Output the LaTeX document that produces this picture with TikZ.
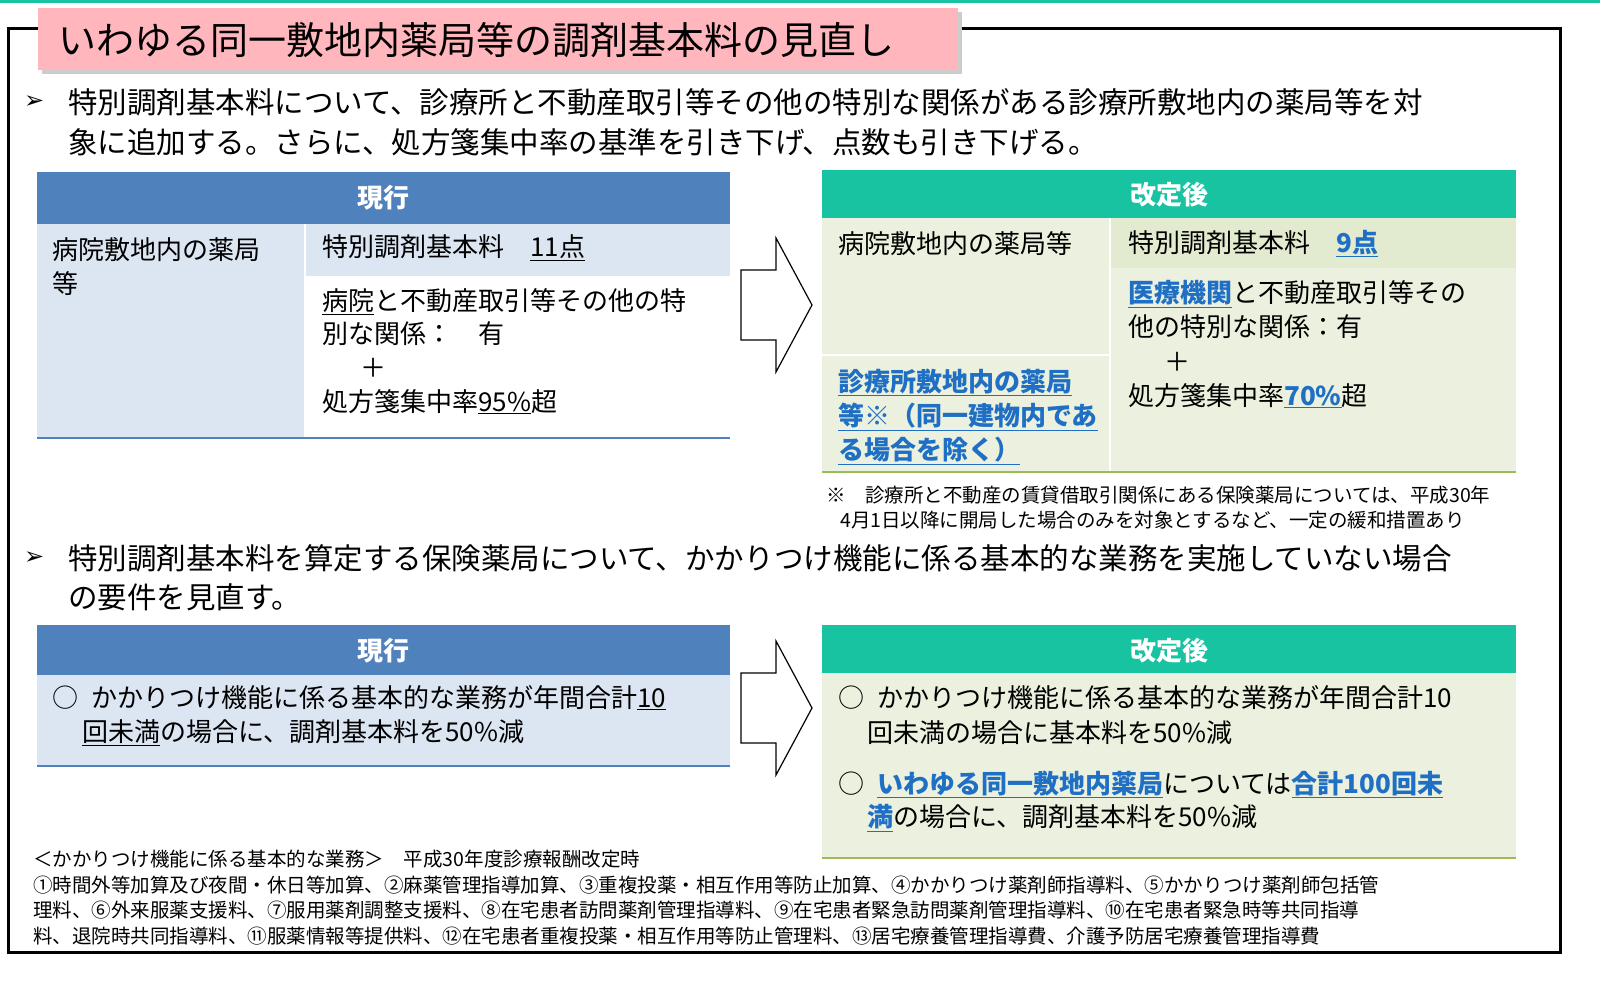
\documentclass[tikz,border=0pt]{standalone}
\usepackage{fontspec}
\setmainfont{Noto Sans CJK JP}
\newfontfamily\djfont{DejaVu Sans}
\definecolor{hdrblue}{HTML}{4F81BD}
\definecolor{lblue}{HTML}{DCE6F2}
\definecolor{teal}{HTML}{17C3A0}
\definecolor{lgreen}{HTML}{EBF1DE}
\definecolor{lgreen2}{HTML}{E2EBCF}
\definecolor{gline}{HTML}{9BBB59}
\definecolor{pink}{HTML}{FFB6BC}
\definecolor{lnk}{HTML}{1F6FC5}
\newcommand{\myul}[1]{\underline{#1}}
\newcommand{\lk}[1]{\textcolor{lnk}{\underline{#1}}}
\begin{document}
\begin{tikzpicture}[x=1pt,y=-1pt,
  t/.style={anchor=west,inner sep=0pt,font=\fontsize{26}{30}\selectfont},
  big/.style={anchor=west,inner sep=0pt,font=\fontsize{29.5}{34}\selectfont},
  sm/.style={anchor=west,inner sep=0pt,font=\fontsize{19.5}{22}\selectfont},
  hdr/.style={font=\fontsize{26}{30}\selectfont\bfseries,text=white,inner sep=0pt},
  arr/.style={draw=black,line width=1.2pt,fill=white}]
\useasboundingbox (0,0) rectangle (1600,983);
\fill[white] (0,0) rectangle (1600,983);
\draw[teal,line width=3pt] (0,1) -- (1600,1);
\draw[line width=3pt] (8,28) rectangle (1560,952);
% title
\fill[gray!40] (42,12) rectangle (962,74);
\fill[pink] (38,8) rectangle (958,70);
\node[anchor=west,inner sep=0pt,font=\fontsize{38}{42}\selectfont] (title) at (58,40) {いわゆる同一敷地内薬局等の調剤基本料の見直し};
% bullet 1
\node[anchor=west,inner sep=0pt,font=\djfont\fontsize{24}{26}\selectfont] (b1) at (24,102) {➢};
\node[big] (l1) at (68,102) {特別調剤基本料について、診療所と不動産取引等その他の特別な関係がある診療所敷地内の薬局等を対};
\node[big] (l2) at (68,142) {象に追加する。さらに、処方箋集中率の基準を引き下げ、点数も引き下げる。};
% table 1 left
\fill[hdrblue] (37,172) rectangle (730,224);
\node[hdr] (h1) at (383,198) {現行};
\fill[lblue] (37,224) rectangle (305,438);
\fill[lblue] (305,224) rectangle (730,276);
\draw[white,line width=2pt] (305,224) -- (305,438);
\draw[hdrblue,line width=2pt] (37,438) -- (730,438);
\node[t] (a1) at (52,250) {病院敷地内の薬局};
\node[t] (a2) at (52,284) {等};
\node[t] (a3) at (322,248) {特別調剤基本料\quad\myul{11点}};
\node[t] (a4) at (322,302) {\myul{病院}と不動産取引等その他の特};
\node[t] (a5) at (322,334) {別な関係：　有};
\node[t] (a6) at (360,368) {＋};
\node[t] (a7) at (322,402) {処方箋集中率\myul{95\%}超};
% arrow 1
\draw[arr] (741,270) -- (776,270) -- (776,238) -- (812,305) -- (776,372) -- (776,340) -- (741,340) -- cycle;
% table 1 right
\fill[teal] (822,170) rectangle (1516,218);
\node[hdr] (h2) at (1169,195) {改定後};
\fill[lgreen] (822,218) rectangle (1516,472);
\fill[lgreen2] (1110,218) rectangle (1516,268);
\draw[white,line width=2pt] (1110,218) -- (1110,472);
\draw[white,line width=2pt] (822,355) -- (1110,355);
\draw[gline,line width=2pt] (822,472) -- (1516,472);
\node[t] (c1) at (838,244) {病院敷地内の薬局等};
\node[t,font=\fontsize{26}{30}\selectfont\bfseries] (c2) at (838,382) {\lk{診療所敷地内の薬局}};
\node[t,font=\fontsize{26}{30}\selectfont\bfseries] (c3) at (838,417) {\lk{等※（同一建物内であ}};
\node[t,font=\fontsize{26}{30}\selectfont\bfseries] (c4) at (838,451) {\lk{る場合を除く）}};
\node[t] (c5) at (1128,244) {特別調剤基本料\quad\textbf{\lk{9点}}};
\node[t] (c6) at (1128,294) {\textbf{\lk{医療機関}}と不動産取引等その};
\node[t] (c7) at (1128,327) {他の特別な関係：有};
\node[t] (c8) at (1164,362) {＋};
\node[t] (c9) at (1128,396) {処方箋集中率\textbf{\lk{70\%}}超};
\node[sm] (f1) at (826,495) {※　診療所と不動産の賃貸借取引関係にある保険薬局については、平成30年};
\node[sm] (f2) at (840,520) {4月1日以降に開局した場合のみを対象とするなど、一定の緩和措置あり};
% bullet 2
\node[anchor=west,inner sep=0pt,font=\djfont\fontsize{24}{26}\selectfont] (b2) at (24,558) {➢};
\node[big] (l3) at (68,558) {特別調剤基本料を算定する保険薬局について、かかりつけ機能に係る基本的な業務を実施していない場合};
\node[big] (l4) at (68,597) {の要件を見直す。};
% table 2 left
\fill[hdrblue] (37,625) rectangle (730,675);
\node[hdr] (h3) at (383,651) {現行};
\fill[lblue] (37,675) rectangle (730,766);
\draw[hdrblue,line width=2pt] (37,766) -- (730,766);
\node[t] (d1) at (52,698) {○\enspace かかりつけ機能に係る基本的な業務が年間合計\myul{10}};
\node[t] (d2) at (82,733) {\myul{回未満}の場合に、調剤基本料を50\%減};
% arrow 2
\draw[arr] (741,673) -- (776,673) -- (776,641) -- (812,708) -- (776,775) -- (776,743) -- (741,743) -- cycle;
% table 2 right
\fill[teal] (822,625) rectangle (1516,673);
\node[hdr] (h4) at (1169,651) {改定後};
\fill[lgreen] (822,673) rectangle (1516,858);
\draw[gline,line width=2pt] (822,858) -- (1516,858);
\node[t] (e1) at (838,698) {○\enspace かかりつけ機能に係る基本的な業務が年間合計10};
\node[t] (e2) at (867,733) {回未満の場合に基本料を50\%減};
\node[t] (e3) at (838,784) {○\enspace \textbf{\lk{いわゆる同一敷地内薬局}}については\textbf{\lk{合計100回未}}};
\node[t] (e4) at (867,818) {\textbf{\lk{満}}の場合に、調剤基本料を50\%減};
% bottom notes
\node[sm] (g1) at (33,859) {＜かかりつけ機能に係る基本的な業務＞　平成30年度診療報酬改定時};
\node[sm] (g2) at (33,885) {①時間外等加算及び夜間・休日等加算、②麻薬管理指導加算、③重複投薬・相互作用等防止加算、④かかりつけ薬剤師指導料、⑤かかりつけ薬剤師包括管};
\node[sm] (g3) at (33,910) {理料、⑥外来服薬支援料、⑦服用薬剤調整支援料、⑧在宅患者訪問薬剤管理指導料、⑨在宅患者緊急訪問薬剤管理指導料、⑩在宅患者緊急時等共同指導};
\node[sm] (g4) at (33,936) {料、退院時共同指導料、⑪服薬情報等提供料、⑫在宅患者重複投薬・相互作用等防止管理料、⑬居宅療養管理指導費、介護予防居宅療養管理指導費};
\end{tikzpicture}
\end{document}
